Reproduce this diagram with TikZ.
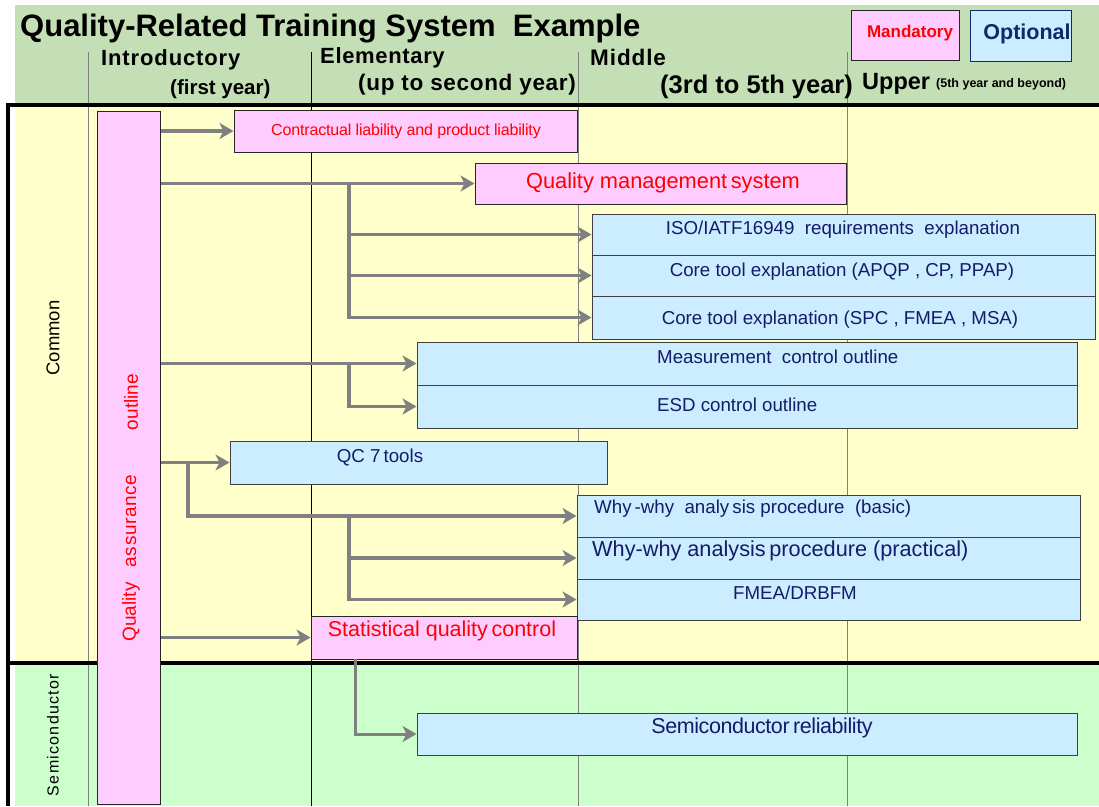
\documentclass[tikz,border=0pt]{standalone}
\usepackage{fontspec}
\setmainfont{Liberation Sans}
\usetikzlibrary{arrows.meta,calc}
\newcommand\myfs[1]{\fontsize{#1}{#1}\selectfont}
\definecolor{hdrgreen}{RGB}{196,223,181}
\definecolor{bodyyellow}{RGB}{255,255,204}
\definecolor{semigreen}{RGB}{204,255,204}
\definecolor{mpink}{RGB}{255,204,255}
\definecolor{mblue}{RGB}{204,236,255}
\definecolor{navy}{RGB}{20,28,105}
\definecolor{optnavy}{RGB}{16,40,110}
\definecolor{arrgray}{RGB}{128,128,128}
\tikzset{
  bx/.style 2 args={minimum width=#1pt, minimum height=#2pt, inner sep=0pt},
  pinkbox/.style={draw=black!85, fill=mpink, line width=1pt},
  bluebox/.style={draw=black!75, fill=mblue, line width=1pt},
  btxt/.style={text=navy, inner sep=0pt, font=\myfs{18.7}},
  rtxt/.style={text=red, inner sep=0pt},
  hdr/.style={inner sep=0pt, anchor=west, font=\bfseries},
  arr/.style={draw=arrgray, line width=3.8pt, -{Stealth[length=14pt,width=16pt,inset=4pt]}},
  vline/.style={line width=1pt, draw=arrgray},
  frame/.style={line width=4.5pt, draw=black}
}
\begin{document}
\begin{tikzpicture}[x=1pt,y=-1pt]
\useasboundingbox (0,0) rectangle (1099,806);
\fill[white] (0,0) rectangle (1099,806);
% backgrounds
\fill[hdrgreen] (15,5) rectangle (1099,103);
\fill[bodyyellow] (15,107) rectangle (1099,663);
\fill[semigreen] (15,663) rectangle (1099,806);
% column lines
\draw[vline] (88,52) -- (88,806);
\draw[line width=0.9pt, black] (311,52) -- (311,806);
\draw[vline] (578,52) -- (578,806);
\draw[vline] (847,52) -- (847,806);
% frame
\draw[frame] (8,105) -- (1099,105);
\draw[frame] (8,663) -- (1099,663);
\draw[frame] (8,103) -- (8,806);
% header
\node[hdr, font=\bfseries\myfs{31}] (title) at (20,29) {Quality-Related Training System\ \ Example};
\node[hdr, font=\bfseries\myfs{22}\addfontfeatures{LetterSpace=4}] (intro) at (101,60) {Introductory};
\node[hdr, font=\bfseries\myfs{20.5}] (introy) at (170,89) {(first year)};
\node[hdr, font=\bfseries\myfs{22}\addfontfeatures{LetterSpace=3}] (elem) at (320,58) {Elementary};
\node[hdr, font=\bfseries\myfs{22.5}\addfontfeatures{LetterSpace=3}] (elemy) at (358,85) {(up to second year)};
\node[hdr, font=\bfseries\myfs{22.5}\addfontfeatures{LetterSpace=4}] (mid) at (590,57) {Middle};
\node[hdr, font=\bfseries\myfs{25.5}] (midy) at (660,87) {(3rd to 5th year)};
\node[hdr, font=\bfseries\myfs{23.5}] (upper) at (862,84) {Upper};
\node[hdr, font=\bfseries\myfs{12.5}] (uppery) at (936,84) {(5th year and beyond)};
% legend
\node[draw=black!85, fill=mpink, line width=1pt, bx={108}{50}] (mand) at (905,35) {};
\node[rtxt, font=\bfseries\myfs{17}] (mandt) at (910,33) {Mandatory};
\node[draw=optnavy, fill=mblue, line width=1pt, bx={101}{51}] (opt) at (1020.5,35.5) {};
\node[text=optnavy, inner sep=0pt, font=\bfseries\myfs{21.5}] (optt) at (1027,34) {Optional};
% left labels
\node[rotate=90, inner sep=0pt, font=\myfs{18.5}] (common) at (53,338) {Common};
\node[rotate=90, inner sep=0pt, font=\myfs{16}\addfontfeatures{LetterSpace=8}] (semi) at (53,735) {Semiconductor};
% pink bar
\node[pinkbox, bx={63}{693}] (bar) at (128.5,457.5) {};
\node[rtxt, rotate=90, font=\myfs{19}] (q1) at (131,612) {Quality};
\node[rtxt, rotate=90, font=\myfs{19}\addfontfeatures{LetterSpace=3}] (q2) at (131,521) {assurance};
\node[rtxt, rotate=90, font=\myfs{19}] (q3) at (131,402) {outline};
% boxes
\node[pinkbox, bx={343}{42}] (b1) at (405.5,131) {};
\node[pinkbox, bx={371}{41}] (b2) at (660.5,183.5) {};
\node[bluebox, bx={503}{41}] (b3) at (843.5,234.5) {};
\node[bluebox, bx={503}{41}] (b4) at (843.5,275.5) {};
\node[bluebox, bx={503}{43}] (b5) at (843.5,317.5) {};
\node[bluebox, bx={660}{43}] (b6) at (747,363.5) {};
\node[bluebox, bx={660}{43}] (b7) at (747,406.5) {};
\node[bluebox, bx={377}{43}] (b8) at (418.5,462.5) {};
\node[bluebox, bx={503}{42}] (b9) at (828.5,516) {};
\node[bluebox, bx={503}{42}] (b10) at (828.5,558) {};
\node[bluebox, bx={503}{41}] (b11) at (828.5,599.5) {};
\node[pinkbox, bx={266}{43}] (b12) at (444,637.5) {};
\node[bluebox, bx={660}{42}] (b13) at (747,734) {};
% box texts
\node[rtxt, font=\myfs{16}\addfontfeatures{LetterSpace=-1}] (t1) at (406,131) {Contractual liability and product liability};
\node[rtxt, font=\myfs{21.8}] (t2) at (663,183) {Quality management\,system};
\node[btxt] (t3) at (843,230) {ISO/IATF16949\ \ requirements\ \ explanation};
\node[btxt] (t4) at (842,272) {Core\ tool\ explanation (APQP\ , CP, PPAP)};
\node[btxt] (t5) at (840,320) {Core tool explanation (SPC\ , FMEA\ , MSA)};
\node[btxt, anchor=west] (t6) at (657,357) {Measurement\ \ control outline};
\node[btxt, anchor=west] (t7) at (657,405) {ESD control outline};
\node[btxt] (t8) at (380,457) {QC 7\,tools};
\node[btxt, anchor=west] (t9) at (594,509) {Why\,-why\ \ analy\,sis procedure\ \ (basic)};
\node[btxt, anchor=west, font=\myfs{21.7}] (t10) at (592,551) {Why-why analysis\,procedure (practical)};
\node[btxt] (t11) at (795,593) {FMEA/DRBFM};
\node[rtxt, font=\myfs{21.5}] (t12) at (442,631) {Statistical quality\,control};
\node[btxt, font=\myfs{21.5}\addfontfeatures{LetterSpace=-2}] (t13) at (762,728) {Semiconductor\,reliability};
% junctions
\coordinate (j1) at (349,183.5);
\coordinate (j2) at (349,363.5);
\coordinate (j3) at (188,462.5);
\coordinate (j4) at (349,516);
\coordinate (j5) at (355,659);
% arrows
\draw[arr] (bar.east |- b1.west) -- (b1.west);
\draw[arr] (bar.east |- b2.west) -- (b2.west);
\draw[arr] (j1) |- (b3.west);
\draw[arr] (j1) |- (b4.west);
\draw[arr] (j1) |- (b5.west);
\draw[arr] (bar.east |- b6.west) -- (b6.west);
\draw[arr] (j2) |- (b7.west);
\draw[arr] (bar.east |- b8.west) -- (b8.west);
\draw[arr] (j3) |- (b9.west);
\draw[arr] (j4) |- (b10.west);
\draw[arr] (j4) |- (b11.west);
\draw[arr] (bar.east |- b12.west) -- (b12.west);
\draw[arr, line width=3pt] (j5) |- (b13.west);
\end{tikzpicture}
\end{document}
